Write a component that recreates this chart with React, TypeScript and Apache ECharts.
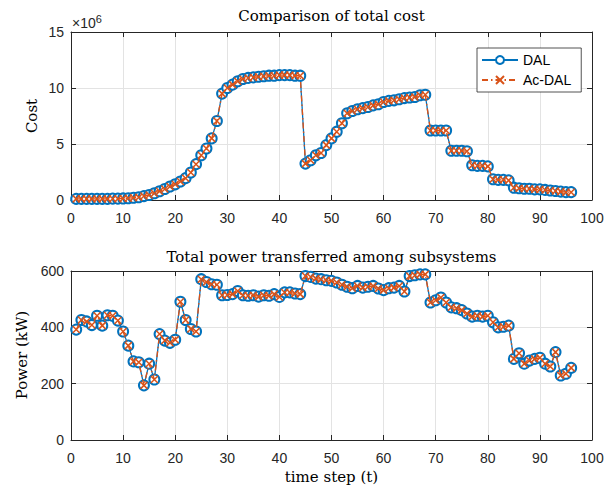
import React, { useEffect, useRef } from "react";
import * as echarts from "echarts";

const timeSteps = [
  1, 2, 3, 4, 5, 6, 7, 8, 9, 10, 11, 12, 13, 14, 15, 16, 17, 18, 19, 20,
  21, 22, 23, 24, 25, 26, 27, 28, 29, 30, 31, 32, 33, 34, 35, 36, 37, 38, 39, 40,
  41, 42, 43, 44, 45, 46, 47, 48, 49, 50, 51, 52, 53, 54, 55, 56, 57, 58, 59, 60,
  61, 62, 63, 64, 65, 66, 67, 68, 69, 70, 71, 72, 73, 74, 75, 76, 77, 78, 79, 80,
  81, 82, 83, 84, 85, 86, 87, 88, 89, 90, 91, 92, 93, 94, 95, 96,
];

// total cost, in units of 10^6
const costDAL = [
  0.1, 0.1, 0.1, 0.1, 0.1, 0.1, 0.1, 0.12, 0.12, 0.14,
  0.16, 0.2, 0.25, 0.35, 0.45, 0.6, 0.78, 0.98, 1.2, 1.4,
  1.65, 1.95, 2.45, 3.2, 4.0, 4.6, 5.5, 7.05, 9.5, 10.0,
  10.3, 10.6, 10.8, 10.9, 10.95, 11.0, 11.05, 11.1, 11.1, 11.15,
  11.15, 11.15, 11.1, 11.1, 3.25, 3.55, 4.0, 4.2, 4.9, 5.5,
  6.1, 6.85, 7.75, 7.95, 8.1, 8.2, 8.3, 8.45, 8.55, 8.75,
  8.85, 8.9, 9.0, 9.1, 9.15, 9.2, 9.35, 9.4, 6.2, 6.2,
  6.2, 6.2, 4.4, 4.4, 4.4, 4.35, 3.1, 3.05, 3.05, 3.0,
  1.85, 1.8, 1.8, 1.75, 1.1, 1.05, 1.0, 1.0, 0.95, 0.95,
  0.9, 0.85, 0.8, 0.75, 0.7, 0.7,
];
const costAcDAL = [
  0.1, 0.1, 0.1, 0.1, 0.1, 0.1, 0.1, 0.12, 0.12, 0.14,
  0.16, 0.2, 0.25, 0.35, 0.45, 0.6, 0.78, 0.98, 1.2, 1.4,
  1.65, 1.95, 2.45, 3.2, 4.0, 4.6, 5.5, 7.05, 9.5, 10.0,
  10.3, 10.6, 10.8, 10.9, 10.95, 11.0, 11.05, 11.1, 11.1, 11.15,
  11.15, 11.15, 11.1, 11.1, 3.25, 3.55, 4.0, 4.2, 4.9, 5.5,
  6.1, 6.85, 7.75, 7.95, 8.1, 8.2, 8.3, 8.45, 8.55, 8.75,
  8.85, 8.9, 9.0, 9.1, 9.15, 9.2, 9.35, 9.4, 6.2, 6.2,
  6.2, 6.2, 4.4, 4.4, 4.4, 4.35, 3.1, 3.05, 3.05, 3.0,
  1.85, 1.8, 1.8, 1.75, 1.1, 1.05, 1.0, 1.0, 0.95, 0.95,
  0.9, 0.85, 0.8, 0.75, 0.7, 0.7,
];

// total power transferred, kW
const powerDAL = [
  392, 426, 421, 408, 441, 406, 443, 441, 424, 385,
  335, 279, 276, 194, 271, 215, 376, 353, 345, 356,
  491, 426, 394, 385, 571, 561, 553, 551, 514, 515,
  518, 529, 514, 512, 514, 509, 514, 512, 518, 508,
  524, 524, 520, 518, 582, 579, 573, 571, 567, 565,
  559, 551, 544, 539, 547, 541, 544, 547, 538, 532,
  539, 541, 547, 527, 582, 585, 588, 588, 488, 496,
  506, 488, 471, 468, 461, 449, 438, 441, 438, 441,
  418, 400, 402, 406, 288, 308, 271, 282, 288, 292,
  271, 261, 312, 229, 235, 256,
];
const powerAcDAL = [
  392, 426, 421, 408, 441, 406, 443, 441, 424, 385,
  335, 279, 276, 194, 271, 215, 376, 353, 345, 356,
  491, 426, 394, 385, 571, 561, 553, 551, 514, 515,
  518, 529, 514, 512, 514, 509, 514, 512, 518, 508,
  524, 524, 520, 518, 582, 579, 573, 571, 567, 565,
  559, 551, 544, 539, 547, 541, 544, 547, 538, 532,
  539, 541, 547, 527, 582, 585, 588, 588, 488, 496,
  506, 488, 471, 468, 461, 449, 438, 441, 438, 441,
  418, 400, 402, 406, 288, 308, 271, 282, 288, 292,
  271, 261, 312, 229, 235, 256,
];

const seriesNames = ["DAL", "Ac-DAL"];
const topTitle = "Comparison of total cost";
const bottomTitle = "Total power transferred among subsystems";
const xLabel = "time step (t)";
const topYLabel = "Cost";
const bottomYLabel = "Power (kW)";

const BLUE = "#0072BD";
const ORANGE = "#D95319";
const AXIS = "#262626";
const GRID = "#e3e3e3";
const SANS = "Liberation Sans, Arial, sans-serif";
const SERIF = "DejaVu Serif, Liberation Serif, serif";
const SERIF_SIZE = 15;

const X_SYMBOL = "path://M0,0L10,10M10,0L0,10";

function pairs(xs: number[], ys: number[]) {
  return xs.map((x, i) => [x, ys[i]]);
}

export default function App() {
  const ref = useRef<HTMLDivElement>(null);
  useEffect(() => {
    if (!ref.current) return;
    const chart = echarts.init(ref.current, null, { renderer: "svg" });

    const grids = [
      { left: 71, top: 32, width: 521, height: 168 },
      { left: 71, top: 271, width: 521, height: 169 },
    ];

    const xMain = (gi: number) => ({
      type: "value",
      gridIndex: gi,
      min: 0,
      max: 100,
      interval: 10,
      position: "bottom",
      axisLine: { show: true, onZero: false, lineStyle: { color: AXIS, width: 1 } },
      axisTick: { show: true, inside: true, length: 5, lineStyle: { color: AXIS } },
      axisLabel: { color: AXIS, fontFamily: SANS, fontSize: 14, margin: 11 },
      splitLine: { show: true, lineStyle: { color: GRID, width: 1 } },
    });
    const xTop = (gi: number) => ({
      type: "value",
      gridIndex: gi,
      min: 0,
      max: 100,
      interval: 10,
      position: "top",
      axisLine: { show: true, onZero: false, lineStyle: { color: AXIS, width: 1 } },
      axisTick: { show: true, inside: true, length: 5, lineStyle: { color: AXIS } },
      axisLabel: { show: false },
      splitLine: { show: false },
    });
    const yMain = (gi: number, max: number, interval: number) => ({
      type: "value",
      gridIndex: gi,
      min: 0,
      max,
      interval,
      position: "left",
      axisLine: { show: true, onZero: false, lineStyle: { color: AXIS, width: 1 } },
      axisTick: { show: true, inside: true, length: 5, lineStyle: { color: AXIS } },
      axisLabel: { color: AXIS, fontFamily: SANS, fontSize: 14, margin: 7 },
      splitLine: { show: true, lineStyle: { color: GRID, width: 1 } },
    });
    const yRight = (gi: number, max: number, interval: number) => ({
      type: "value",
      gridIndex: gi,
      min: 0,
      max,
      interval,
      position: "right",
      axisLine: { show: true, onZero: false, lineStyle: { color: AXIS, width: 1 } },
      axisTick: { show: true, inside: true, length: 5, lineStyle: { color: AXIS } },
      axisLabel: { show: false },
      splitLine: { show: false },
    });

    const dalSeries = (name: string, gi: number, data: number[][]) => ({
      name,
      type: "line",
      xAxisIndex: gi * 2,
      yAxisIndex: gi * 2,
      data,
      symbol: "emptyCircle",
      symbolSize: 10,
      showAllSymbol: true,
      lineStyle: { color: BLUE, width: 1.3 },
      itemStyle: { color: BLUE, borderColor: BLUE, borderWidth: 1.4 },
      z: 2,
    });
    const acSeries = (name: string, gi: number, data: number[][]) => ({
      name,
      type: "line",
      xAxisIndex: gi * 2,
      yAxisIndex: gi * 2,
      data,
      symbol: X_SYMBOL,
      symbolSize: 7,
      showAllSymbol: true,
      lineStyle: { color: ORANGE, width: 1.4, type: [6, 3, 1.5, 3] },
      itemStyle: { color: ORANGE, borderColor: ORANGE, borderWidth: 1.5 },
      z: 3,
    });

    const serifText = (text: string, x: number, y: number, rotation = 0) => ({
      type: "text",
      x,
      y,
      rotation,
      style: { text, align: "center", verticalAlign: "middle", fontFamily: SERIF, fontSize: SERIF_SIZE, fill: "#000" },
    });

    chart.setOption({
      animation: false,
      backgroundColor: "#ffffff",
      grid: grids,
      xAxis: [xMain(0), xTop(0), xMain(1), xTop(1)],
      yAxis: [yMain(0, 15, 5), yRight(0, 15, 5), yMain(1, 600, 200), yRight(1, 600, 200)],
      legend: {
        show: true,
        data: seriesNames,
        orient: "vertical",
        left: 477,
        top: 48,
        width: 100,
        itemWidth: 36,
        itemHeight: 10,
        itemGap: 6,
        padding: [5, 10, 5, 4],
        backgroundColor: "#ffffff",
        borderColor: AXIS,
        borderWidth: 0.8,
        textStyle: { color: "#000", fontFamily: SANS, fontSize: 14 },
      },
      series: [
        dalSeries(seriesNames[0], 0, pairs(timeSteps, costDAL)),
        acSeries(seriesNames[1], 0, pairs(timeSteps, costAcDAL)),
        dalSeries(seriesNames[0], 1, pairs(timeSteps, powerDAL)),
        acSeries(seriesNames[1], 1, pairs(timeSteps, powerAcDAL)),
      ],
      graphic: [
        serifText(topTitle, 331.5, 16),
        serifText(bottomTitle, 331.5, 257),
        serifText(xLabel, 331.5, 477),
        serifText(topYLabel, 32, 116, Math.PI / 2),
        serifText(bottomYLabel, 22, 355, Math.PI / 2),
        {
          type: "text",
          x: 72,
          y: 23,
          style: {
            text: "{a|×10}{b|6}",
            align: "left",
            verticalAlign: "middle",
            rich: {
              a: { fontFamily: SANS, fontSize: 14, fill: AXIS, color: AXIS },
              b: { fontFamily: SANS, fontSize: 11, fill: AXIS, color: AXIS, verticalAlign: "top", padding: [0, 0, 9, 0] },
            },
          },
        },
      ],
    });
    return () => chart.dispose();
  }, []);
  return (
    <div
      ref={ref}
      style={{ position: "fixed", left: 0, top: 0, width: 612, height: 488, background: "#fff" }}
    />
  );
}
